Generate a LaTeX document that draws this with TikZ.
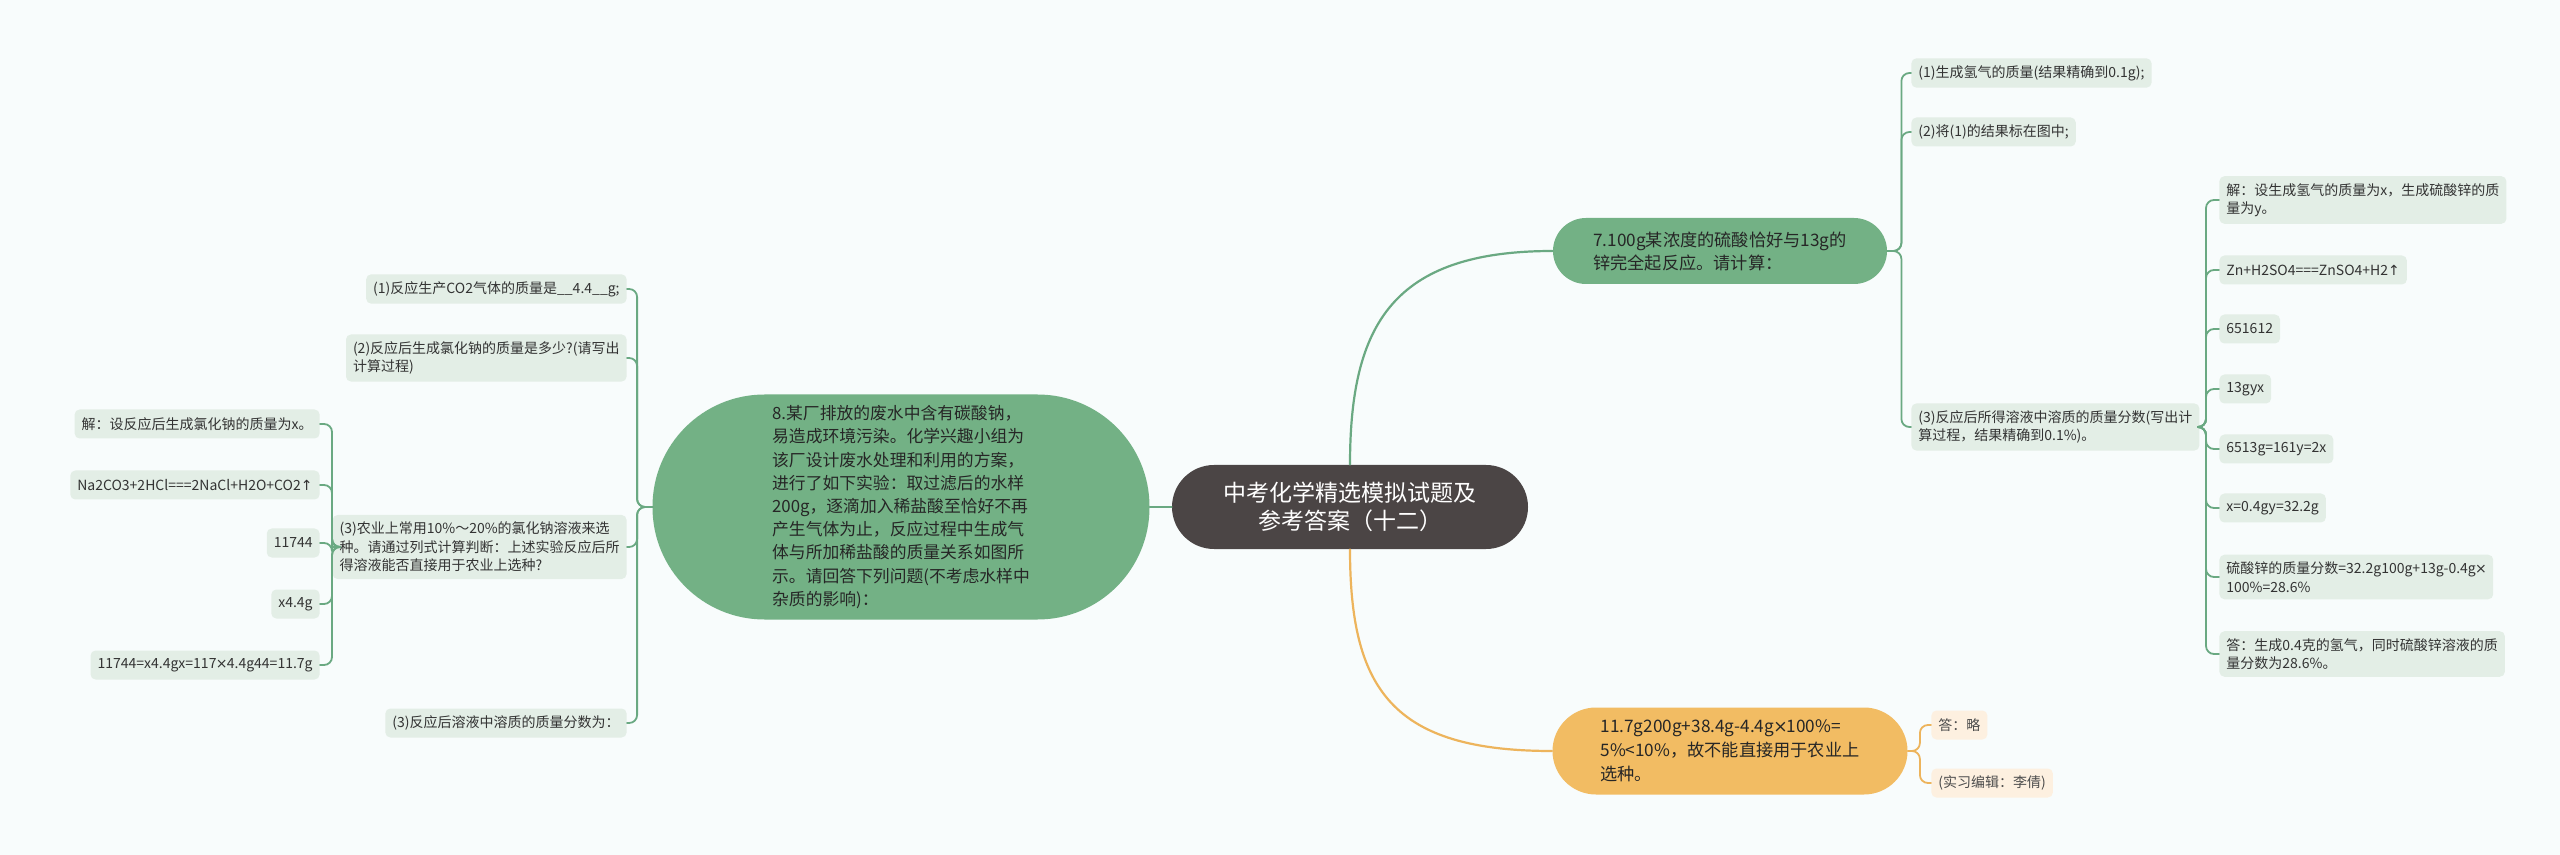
\documentclass[tikz,border=0pt]{standalone}
\usepackage{fontspec}
\setmainfont{Noto Sans CJK SC}
\newfontfamily\kyhieu{DejaVu Sans}
\newcommand{\nhan}{{\kyhieu\kern-0.05em×\kern-0.05em}}
\newcommand{\len}{{\kyhieu ↑}}
\definecolor{nen}{HTML}{F8FCFC}
\definecolor{mauGoc}{HTML}{4B4545}
\definecolor{xanhDam}{HTML}{73B185}
\definecolor{xanhNhat}{HTML}{E3EEE6}
\definecolor{camDam}{HTML}{F2BC63}
\definecolor{camNhat}{HTML}{FDF0E0}
\definecolor{duongXanh}{HTML}{6AA982}
\definecolor{duongCam}{HTML}{EDB45C}
\definecolor{chu}{HTML}{333333}
\begin{document}
\begin{tikzpicture}[line join=round, line cap=round, x=0.5pt, y=-0.5pt,
    goc/.style={fill=mauGoc, text=white, align=center, font=\fontsize{11.5}{14}\selectfont,
        minimum width=178pt, minimum height=42pt, rounded corners=21pt},
    chude/.style={fill=xanhDam, text=black!85, align=left, inner sep=0pt},
    la/.style={fill=xanhNhat, text=chu, align=left, rounded corners=2.5pt,
        font=\fontsize{7}{9.25}\selectfont, inner xsep=3.5pt, inner ysep=3.5pt, minimum height=14.5pt},
    lacam/.style={la, fill=camNhat, text=black!70},
    noi/.style={draw=duongXanh, line width=0.9pt, rounded corners=4pt},
    noicam/.style={noi, draw=duongCam}]
    \useasboundingbox (0,0) rectangle (2560,855);
    \fill[nen] (0,0) rectangle (2560,855);
    
    % Nút gốc và ba chủ đề
    \node[goc] (goc) at (1350,507) {中考化学精选模拟试题及\\参考答案（十二）};
    \node[chude, minimum width=248.5pt, minimum height=112.5pt, rounded corners=56pt,
        font=\fontsize{8.4}{11.6}\selectfont] (de8) at (901,507)
        {8.某厂排放的废水中含有碳酸钠，\\易造成环境污染。化学兴趣小组为\\该厂设计废水处理和利用的方案，\\进行了如下实验：取过滤后的水样\\200g，逐滴加入稀盐酸至恰好不再\\产生气体为止，反应过程中生成气\\体与所加稀盐酸的质量关系如图所\\示。请回答下列问题(不考虑水样中\\杂质的影响)：};
    \node[chude, minimum width=167pt, minimum height=33pt, rounded corners=16.5pt,
        font=\fontsize{8.6}{11.5}\selectfont] (de7) at (1720,251)
        {7.100g某浓度的硫酸恰好与13g的\\锌完全起反应。请计算：};
    \node[chude, fill=camDam, minimum width=177.5pt, minimum height=43.5pt, rounded corners=21.75pt,
        font=\fontsize{8.6}{12}\selectfont] (kl) at (1730,751)
        {11.7g200g+38.4g-4.4g\nhan100\%=\\5\%<10\%，故不能直接用于农业上\\选种。};
    
    % Nhánh trái
    \node[la, anchor=east] (c1) at (627,289) {(1)反应生产CO2气体的质量是\_\_4.4\_\_g;};
    \node[la, anchor=east] (c2) at (627,358) {(2)反应后生成氯化钠的质量是多少?(请写出\\计算过程)};
    \node[la, anchor=east] (c3) at (627,547) {(3)农业上常用10\%～20\%的氯化钠溶液来选\\种。请通过列式计算判断：上述实验反应后所\\得溶液能否直接用于农业上选种?};
    \node[la, anchor=east] (c4) at (627,723) {(3)反应后溶液中溶质的质量分数为：};
    
    \node[la, anchor=east] (g1) at (320,424) {解：设反应后生成氯化钠的质量为x。};
    \node[la, anchor=east] (g2) at (320,485) {Na2CO3+2HCl===2NaCl+H2O+CO2\len};
    \node[la, anchor=east] (g3) at (320,543) {11744};
    \node[la, anchor=east] (g4) at (320,604) {x4.4g};
    \node[la, anchor=east] (g5) at (320,665) {11744=x4.4gx=117\nhan4.4g44=11.7g};
    
    % Nhánh phải
    \node[la, anchor=west] (r1) at (1911,73) {(1)生成氢气的质量(结果精确到0.1g);};
    \node[la, anchor=west] (r2) at (1911,132) {(2)将(1)的结果标在图中;};
    \node[la, anchor=west] (r3) at (1911,427) {(3)反应后所得溶液中溶质的质量分数(写出计\\算过程，结果精确到0.1\%)。};
    
    \node[la, anchor=west] (s1) at (2219,200) {解：设生成氢气的质量为x，生成硫酸锌的质\\量为y。};
    \node[la, anchor=west] (s2) at (2219,270) {Zn+H2SO4===ZnSO4+H2\len};
    \node[la, anchor=west] (s3) at (2219,329) {651612};
    \node[la, anchor=west] (s4) at (2219,389) {13gyx};
    \node[la, anchor=west] (s5) at (2219,449) {6513g=161y=2x};
    \node[la, anchor=west] (s6) at (2219,508) {x=0.4gy=32.2g};
    \node[la, anchor=west] (s7) at (2219,577) {硫酸锌的质量分数=32.2g100g+13g-0.4g\nhan\\100\%=28.6\%};
    \node[la, anchor=west] (s8) at (2219,654) {答：生成0.4克的氢气，同时硫酸锌溶液的质\\量分数为28.6\%。};
    
    \node[lacam, anchor=west] (o1) at (1931,725) {答：略};
    \node[lacam, anchor=west] (o2) at (1931,783) {(实习编辑：李倩)};
    
    % Đường nối từ gốc
    \draw[noi, line width=1.1pt] (goc.west) -- (de8.east);
    \draw[noi, line width=1.1pt] (goc.north) .. controls +(0,-140) and +(-160,0) .. (de7.west);
    \draw[noicam, line width=1.1pt] (goc.south) .. controls +(0,140) and +(-160,0) .. (kl.west);
    
    % Đường nối các lá
    \foreach \n in {c1,c2,c3,c4}
        \draw[noi] (de8.west) -- ++(-15,0) |- (\n.east);
    \foreach \n in {g1,g2,g3,g4,g5}
        \draw[noi] (c3.west) -- ([xshift=6pt]g1.east |- c3.west) |- (\n.east);
    \foreach \n in {r1,r2,r3}
        \draw[noi] (de7.east) -- ++(14,0) |- (\n.west);
    \foreach \n in {s1,s2,s3,s4,s5,s6,s7,s8}
        \draw[noi] (r3.east) -- ([xshift=-6.5pt]s1.west |- r3.east) |- (\n.west);
    \foreach \n in {o1,o2}
        \draw[noicam] (kl.east) -- ++(12,0) |- (\n.west);
\end{tikzpicture}
\end{document}
